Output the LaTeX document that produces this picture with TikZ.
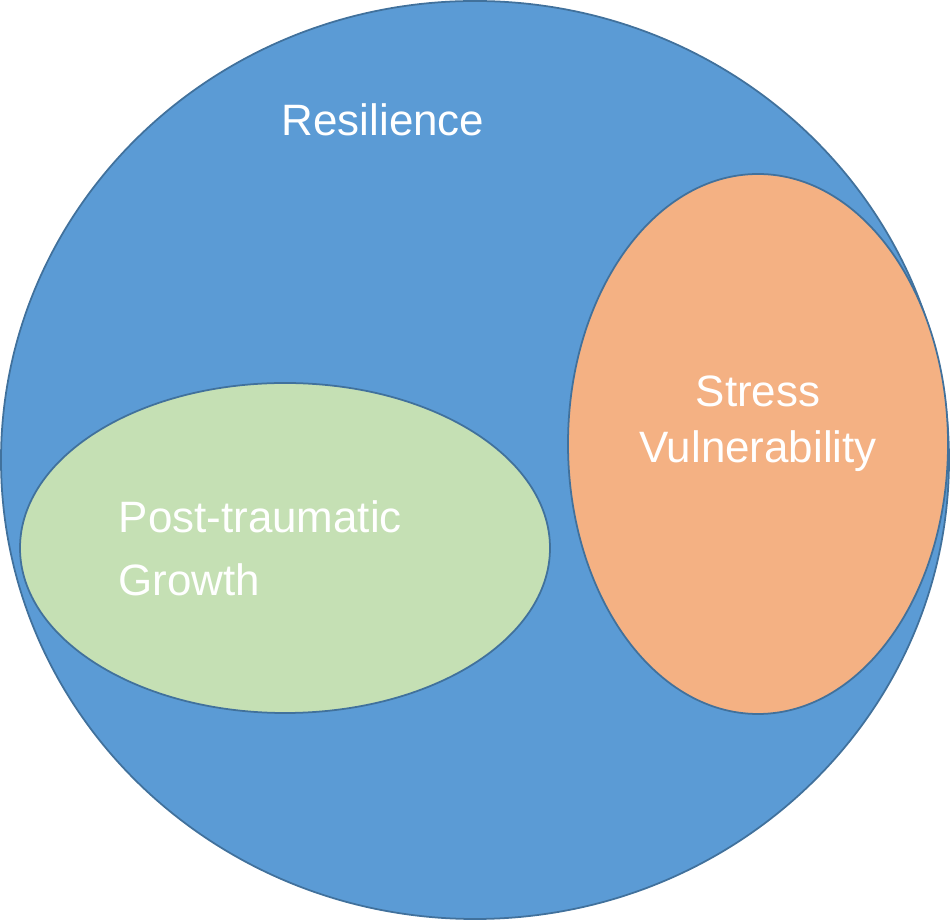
\documentclass[tikz,border=0pt]{standalone}
\usepackage{fontspec}
\setmainfont{Liberation Sans}
\usetikzlibrary{shapes.geometric,positioning}
\definecolor{resblue}{HTML}{5B9BD5}
\definecolor{edgeblue}{HTML}{41719C}
\definecolor{ptggreen}{HTML}{C5E0B4}
\definecolor{svorange}{HTML}{F4B183}

\begin{document}
\begin{tikzpicture} [
    every node/.style={font=\fontsize{25}{30}\selectfont, text=white},
    area/.style={ellipse, draw=edgeblue, line width=1pt, inner sep=0pt}]

  \useasboundingbox (0, 0) rectangle (19, 18.42);

  \node [area, fill=resblue,
    minimum width = 18.96cm,
    minimum height = 18.36cm
  ] (res) at (9.5, 9.22) {};

  \node [] (res_label) at (7.66, 16.02) {Resilience};

  \node [area, fill=ptggreen,
    minimum width = 10.6cm,
    minimum height = 6.6cm
  ] (ptg) at (5.7, 7.46) {};

  \node [align=left, anchor=west,
    font=\fontsize{25}{36}\selectfont
  ] (ptg_label) at (2.25, 7.46) {Post-traumatic\\Growth};

  \node [area, fill=svorange,
    minimum width = 7.6cm,
    minimum height = 10.8cm
  ] (sv) at (15.16, 9.54) {};

  \node [align=center,
    font=\fontsize{25}{32}\selectfont
  ] (sv_label) at (15.16, 9.94) {Stress\\Vulnerability};

\end{tikzpicture}
\end{document}
